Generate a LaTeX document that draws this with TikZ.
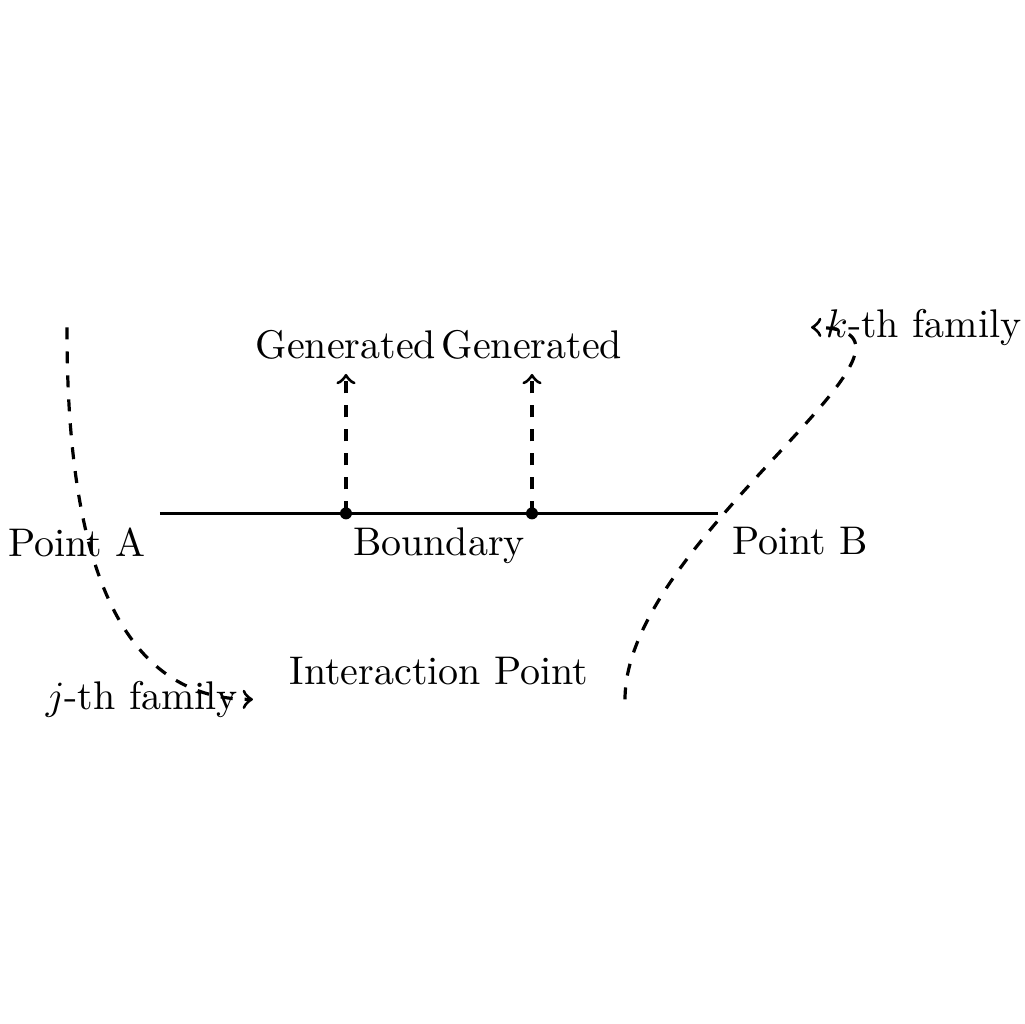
\documentclass[tikz,border=0pt]{standalone}
\usepackage{amsmath}
\usepackage{amssymb}
\usepackage{tikz}

\begin{document}
\begin{tikzpicture}[x=0.817cm, y=0.817cm,
                    boundary/.style={thick},
                    emission/.style={thick, dashed, ->},
                    family/.style={thick, dashed, ->},
                    vertex/.style={circle, fill, inner sep=0pt, minimum size=3pt}
                ]
                \useasboundingbox (-4.72,-5.49) rectangle (6.29,5.52);
                \coordinate (A) at (-3,0);
                \coordinate (B) at (3,0);
                \node[vertex] (v1) at (-1,0) {};
                \node[vertex] (v2) at (1,0) {};
                \coordinate (g1) at (-1,1.5);
                \coordinate (g2) at (1,1.5);
                \coordinate (jstart) at (-4,2);
                \coordinate (jend) at (-2,-2);
                \coordinate (kstart) at (2,-2);
                \coordinate (kend) at (4,2);
                % boundary with the two generation points
                \draw[boundary] (A) -- (B);
                \node[below left] (labA) at (A) {Point A};
                \node[below right] (labB) at (B) {Point B};
                \node[below] (labO) at (0,0) {Boundary};
                \draw[emission] (v1.center) -- (g1) node[above] (gen1) {Generated};
                \draw[emission] (v2.center) -- (g2) node[above] (gen2) {Generated};
                \node[above] (ip) at (0,-2) {Interaction Point};
                % incoming families
                \draw[family] (jstart) to[out=-90, in=180] (jend) node[left] (jlab) {$j$-th family};
                \draw[family] (kstart) to[out=90, in=0] (kend) node[right] (klab) {$k$-th family};
                \end{tikzpicture}
\end{document}
